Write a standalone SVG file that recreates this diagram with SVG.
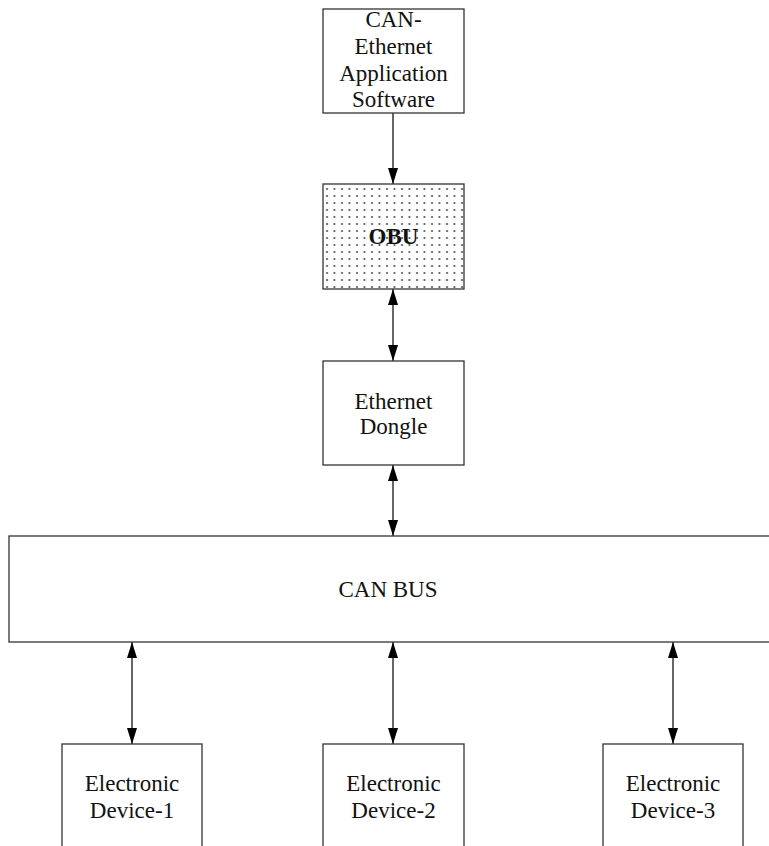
<svg xmlns="http://www.w3.org/2000/svg" width="769" height="846" viewBox="0 0 769 846">
<style>
.box{fill:#fff;stroke:#333;stroke-width:1.3}
.t{font-family:"Liberation Serif","Times New Roman",serif;font-size:23px;fill:#111;text-anchor:middle}
.b{font-weight:bold}
.c{stroke:#000;stroke-width:1.2;fill:none}
</style>
<defs>
<pattern id="dots" x="324" y="186" width="7.5" height="7" patternUnits="userSpaceOnUse">
<rect width="7.5" height="7" fill="#fff"/>
<circle cx="3" cy="3" r="1" fill="#444"/>
</pattern>
<marker id="ah" viewBox="0 0 16 10" refX="16" refY="5" markerWidth="16" markerHeight="10" markerUnits="userSpaceOnUse" orient="auto-start-reverse">
<path d="M0,0 L16,5 L0,10 Z" fill="#000"/>
</marker>
</defs>
<g id="connectors">
<line class="c" x1="393" y1="113" x2="393" y2="184" marker-end="url(#ah)"/>
<line class="c" x1="393" y1="289" x2="393" y2="361" marker-start="url(#ah)" marker-end="url(#ah)"/>
<line class="c" x1="393" y1="465" x2="393" y2="536" marker-start="url(#ah)" marker-end="url(#ah)"/>
<line class="c" x1="132" y1="642" x2="132" y2="744" marker-start="url(#ah)" marker-end="url(#ah)"/>
<line class="c" x1="393" y1="642" x2="393" y2="744" marker-start="url(#ah)" marker-end="url(#ah)"/>
<line class="c" x1="673" y1="642" x2="673" y2="744" marker-start="url(#ah)" marker-end="url(#ah)"/>
</g>
<g id="app">
<rect class="box" x="323" y="9" width="141" height="104"/>
<text class="t" x="393.5" y="27">CAN-</text>
<text class="t" x="393.5" y="54">Ethernet</text>
<text class="t" x="393.5" y="81">Application</text>
<text class="t" x="393.5" y="107">Software</text>
</g>
<g id="obu">
<rect class="box" x="323" y="184" width="141" height="105" style="fill:url(#dots)"/>
<text class="t b" x="393.5" y="244">OBU</text>
</g>
<g id="dongle">
<rect class="box" x="323" y="361" width="141" height="104"/>
<text class="t" x="393.5" y="409">Ethernet</text>
<text class="t" x="393.5" y="434">Dongle</text>
</g>
<g id="canbus">
<rect class="box" x="9" y="536" width="780" height="106"/>
<text class="t" x="388" y="597">CAN BUS</text>
</g>
<g id="dev1">
<rect class="box" x="62" y="744" width="140" height="120"/>
<text class="t" x="132" y="791">Electronic</text>
<text class="t" x="132" y="818">Device-1</text>
</g>
<g id="dev2">
<rect class="box" x="323" y="744" width="141" height="120"/>
<text class="t" x="393.5" y="791">Electronic</text>
<text class="t" x="393.5" y="818">Device-2</text>
</g>
<g id="dev3">
<rect class="box" x="603" y="744" width="140" height="120"/>
<text class="t" x="673" y="791">Electronic</text>
<text class="t" x="673" y="818">Device-3</text>
</g>
</svg>
